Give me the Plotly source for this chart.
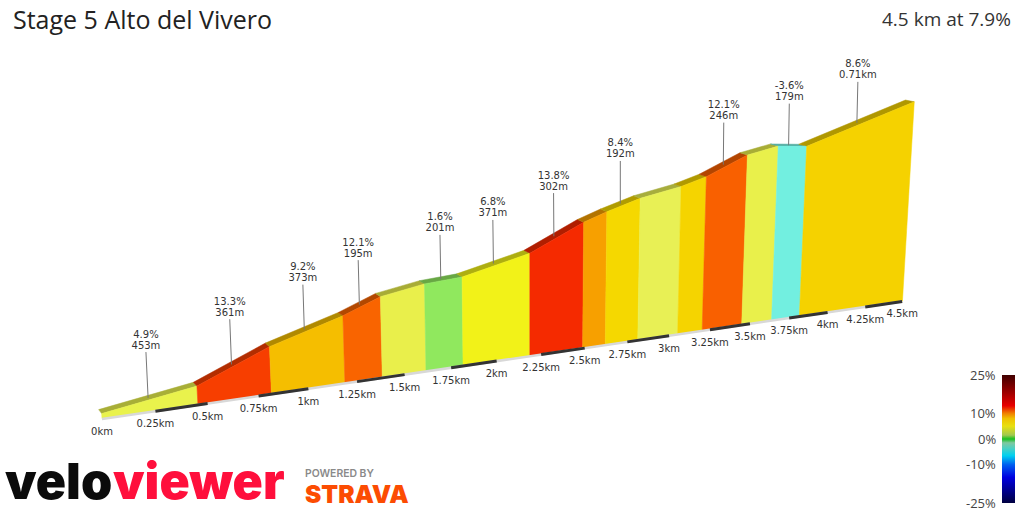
import numpy as np
import plotly.graph_objects as go

# ---- data ----
seg_lengths_m = [453, 361, 373, 195, 232, 201, 371, 302, 132, 192, 240, 150, 246, 189, 179, 686]
seg_gradients = [4.9, 13.3, 9.2, 12.1, 5.0, 1.6, 6.8, 13.8, 10.0, 8.4, 5.0, 8.0, 12.1, 5.0, -3.6, 8.6]
seg_colors = ["#E9F24C", "#F73E00", "#F5BE00", "#F96400", "#E9EF4B", "#90E85E", "#F2F218", "#F52A00",
              "#F7A000", "#F5D800", "#E8F055", "#F5D400", "#F96000", "#E9F04B", "#72EFE0", "#F5D200"]
label_seg = [0, 1, 2, 3, 5, 6, 7, 9, 12, 14, 15]
label_grad = ["4.9%", "13.3%", "9.2%", "12.1%", "1.6%", "6.8%", "13.8%", "8.4%", "12.1%", "-3.6%", "8.6%"]
label_dist = ["453m", "361m", "373m", "195m", "201m", "371m", "302m", "192m", "246m", "179m", "0.71km"]
tick_km = [0, 0.25, 0.5, 0.75, 1, 1.25, 1.5, 1.75, 2, 2.25, 2.5, 2.75, 3, 3.25, 3.5, 3.75, 4, 4.25, 4.5]
tick_labels = ["0km", "0.25km", "0.5km", "0.75km", "1km", "1.25km", "1.5km", "1.75km", "2km", "2.25km",
               "2.5km", "2.75km", "3km", "3.25km", "3.5km", "3.75km", "4km", "4.25km", "4.5km"]
bar_ticks = [25, 10, 0, -10, -25]
bar_labels = ["25%", "10%", "0%", "-10%", "-25%"]

# ---- derived profile ----
lengths = np.array(seg_lengths_m) / 1000
dist = np.concatenate([[0], np.cumsum(lengths)])
elev = np.concatenate([[0], np.cumsum(np.array(seg_lengths_m) * np.array(seg_gradients) / 100)])


# ---- oblique projection of the profile into the picture ----
def base(d):
    x = 102 + 216.3 * d / (1 + 0.0481 * d)
    return x, 301 + (902 - x) * 0.147


def front(d, e):
    bx, by = base(d)
    h = 5 + e * (0.61 - 0.014 * d)
    return bx + (bx - 531) * 0.00016 * h, by - h


def back(d, e):
    x, y = front(d, e)
    return x - (3 + 1.3 * d), y - (4 - 0.5 * d)


def shade(c, f):
    r, g, b = (int(c[i:i + 2], 16) for i in (1, 3, 5))
    return f"rgb({r * f:.0f},{g * f:.0f},{b * f:.0f})"


fig = go.Figure()


def poly(pts, color):
    xs, ys = zip(*pts)
    fig.add_trace(go.Scatter(x=list(xs) + [xs[0]], y=list(ys) + [ys[0]], mode="lines", fill="toself",
                             fillcolor=color, line=dict(color=color, width=0.5),
                             hoverinfo="skip", showlegend=False))


for i, col in enumerate(seg_colors):
    d0, d1, e0, e1 = dist[i], dist[i + 1], elev[i], elev[i + 1]
    poly([back(d0, e0), back(d1, e1), front(d1, e1), front(d0, e0)], shade(col, 0.72))
for i, col in enumerate(seg_colors):
    d0, d1, e0, e1 = dist[i], dist[i + 1], elev[i], elev[i + 1]
    poly([base(d0), front(d0, e0), front(d1, e1), base(d1)], col)

# road edge along the base
bx, by = base(np.array([0, 4.5]))
fig.add_trace(go.Scatter(x=bx, y=by + 0.5, mode="lines", line=dict(color="#d8d8d8", width=2.5),
                         hoverinfo="skip", showlegend=False))
for a, b in zip(tick_km[1::2], tick_km[2::2]):
    bx, by = base(np.array([a, b]))
    fig.add_trace(go.Scatter(x=bx, y=by + 0.5, mode="lines", line=dict(color="#333333", width=3),
                             hoverinfo="skip", showlegend=False))

# distance labels
tx, ty = base(np.array(tick_km))
fig.add_trace(go.Scatter(x=tx, y=ty + 14, mode="text", text=tick_labels, textposition="middle center",
                         textfont=dict(family="DejaVu Sans", size=10, color="#333333"),
                         hoverinfo="skip", showlegend=False))

# segment leaders and labels
lx, ly, gx, gy, mx, my = [], [], [], [], [], []
for s in label_seg:
    dm = (dist[s] + dist[s + 1]) / 2
    em = (elev[s] + elev[s + 1]) / 2
    fx, fy = front(dm, em)
    kx, ky = back(dm, em)
    x0, y0 = (fx + kx) / 2, (fy + ky) / 2
    length = 46 - 1.2 * dm
    x1, y1 = x0 + (x0 - 620) * 0.0001 * length, y0 - length
    lx += [x0, x1, None]
    ly += [y0, y1, None]
    mx.append(x1)
    my.append(y1 - 6)
    gx.append(x1)
    gy.append(y1 - 17)
fig.add_trace(go.Scatter(x=lx, y=ly, mode="lines", line=dict(color="#777777", width=1),
                         hoverinfo="skip", showlegend=False))
fig.add_trace(go.Scatter(x=gx, y=gy, mode="text", text=label_grad, textposition="middle center",
                         textfont=dict(family="DejaVu Sans", size=10, color="#333333"),
                         hoverinfo="skip", showlegend=False))
fig.add_trace(go.Scatter(x=mx, y=my, mode="text", text=label_dist, textposition="middle center",
                         textfont=dict(family="DejaVu Sans", size=10, color="#333333"),
                         hoverinfo="skip", showlegend=False))

# gradient colour bar
scale = [[0.0, "#000040"], [0.1, "#000090"], [0.2, "#0000e0"], [0.3, "#0060f0"], [0.37, "#00d0f0"],
         [0.43, "#50d0c0"], [0.47, "#80c8a0"], [0.5, "#18c020"], [0.53, "#a0c850"], [0.6, "#e8e010"],
         [0.66, "#f0c000"], [0.7, "#f08000"], [0.76, "#e80000"], [0.86, "#a00000"], [1.0, "#400000"]]
fig.add_trace(go.Scatter(x=[-50], y=[-50], mode="markers",
                         marker=dict(size=1, color=[0], cmin=-25, cmax=25, colorscale=scale, showscale=True,
                                     colorbar=dict(x=1002 / 1024, xanchor="left", y=1 - 375 / 512, yanchor="top",
                                                   len=128, lenmode="pixels", thickness=13, thicknessmode="pixels",
                                                   xpad=0, ypad=0, outlinewidth=0, ticks="", showticklabels=False,
                                                   tickmode="array", tickvals=bar_ticks)),
                         hoverinfo="skip", showlegend=False))


def note(x, y, text, family, size, color, anchor="left", weight=None):
    fig.add_annotation(x=x, y=y, xref="x", yref="y", text=text, showarrow=False, xanchor=anchor, yanchor="middle",
                       borderpad=0, borderwidth=0,
                       font=dict(family=family, size=size, color=color, weight=weight))


for v, t in zip(bar_ticks, bar_labels):
    note(996, 438.8 - v * 2.554, t, "Open Sans", 13, "#444444", anchor="right")

note(13, 19, "Stage 5 Alto del Vivero", "Open Sans", 25, "#222222")
note(1011, 19, "4.5 km at 7.9%", "Open Sans", 19, "#333333", anchor="right")
note(5, 481, "velo", "Inter", 50, "#0b0b0b", weight=900)
note(113, 481, "viewer", "Inter", 50, "#ff0f3c", weight=900)
note(305, 473, "POWERED BY", "Inter", 10.4, "#8a8a8a", weight=600)
note(305, 494, "STRAVA", "Inter", 24.5, "#fc4c02", weight=900)

fig.update_layout(width=1024, height=512, margin=dict(l=0, r=0, t=0, b=0, autoexpand=False), plot_bgcolor="white",
                  paper_bgcolor="white", showlegend=False,
                  xaxis=dict(range=[0, 1024], visible=False, fixedrange=True),
                  yaxis=dict(range=[512, 0], visible=False, fixedrange=True))
fig.write_html("out.html", config={"displayModeBar": False}, post_script="document.body.style.margin='0';")
